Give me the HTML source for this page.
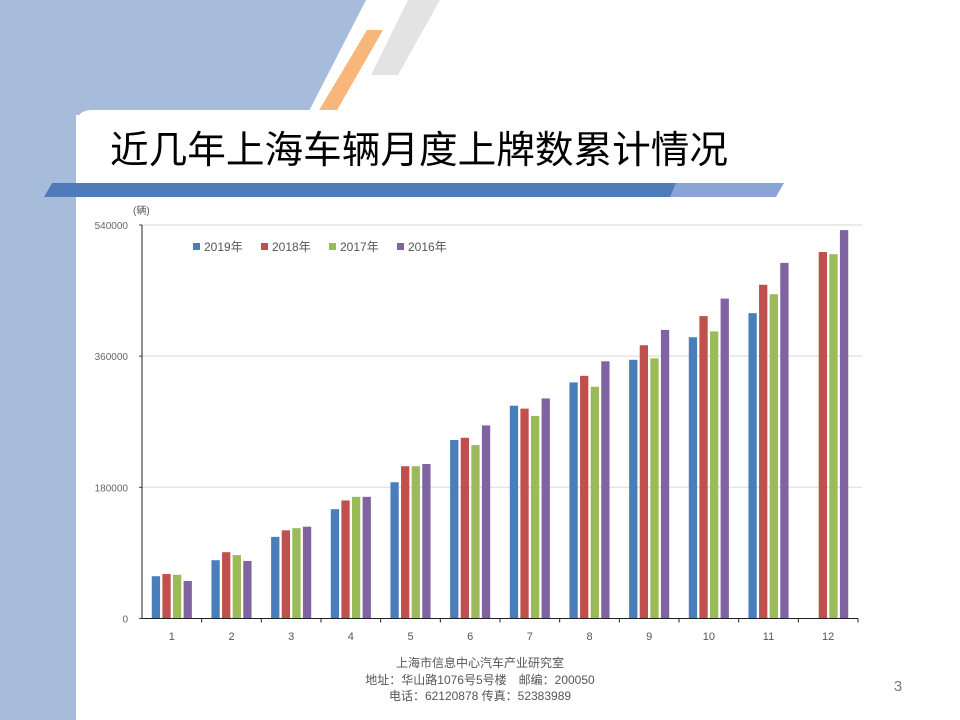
<!DOCTYPE html>
<html><head><meta charset="utf-8">
<style>
html,body{margin:0;padding:0;background:#fff;}
body{width:960px;height:720px;position:relative;overflow:hidden;font-family:"Liberation Sans","Noto Sans CJK SC",sans-serif;}
</style></head>
<body>
<svg width="960" height="720" viewBox="0 0 960 720" style="position:absolute;left:0;top:0">
  <rect x="0" y="0" width="76" height="720" fill="#a7bcda"/>
  <polygon points="0,0 366,0 307,115 0,115" fill="#a7bcda"/>
  <polygon points="408,0 440,0 398,75 371,75" fill="#e3e3e3"/>
  <polygon points="367,30 383,30 336,112 318,112" fill="#f9b67a"/>
  <path d="M76,126 Q76,110 92,110 L960,110 L960,720 L76,720 Z" fill="#fff"/>
  <text x="110" y="163" font-size="38" fill="#000" textLength="618" lengthAdjust="spacingAndGlyphs" font-family="Liberation Sans, Noto Sans CJK SC, sans-serif">近几年上海车辆月度上牌数累计情况</text>
  <polygon points="52,183 680,183 674,197 44,197" fill="#4f7bbb"/>
  <polygon points="676,183 784,183 776,197 670,197" fill="#8aa5d4"/>
  <g id="chart"></g>
  <g font-size="12" fill="#555" text-anchor="middle">
    <text x="480" y="667">上海市信息中心汽车产业研究室</text>
    <text x="480" y="684">地址：华山路1076号5号楼　邮编：200050</text>
    <text x="480" y="700">电话：62120878  传真：52383989</text>
  </g>
  <text x="898" y="691" font-size="15" fill="#777" text-anchor="middle">3</text>
</svg>
<script>
const months = ["1","2","3","4","5","6","7","8","9","10","11","12"];
const seriesNames = ["2019年","2018年","2017年","2016年"];
const seriesColors = ["#4a7ebb","#c0504d","#9bbb59","#8064a2"];
const v2019 = [58000,80000,112000,150000,187000,245000,292000,324000,355000,386000,419000,null];
const v2018 = [61000,91000,121000,162000,209000,248000,288000,333000,375000,415000,458000,503000];
const v2017 = [60000,87000,124000,167000,209000,238000,278000,318000,357000,394000,445000,500000];
const v2016 = [51500,79000,126000,167000,212000,265000,302000,353000,396000,439000,488000,533000];
const yTicks = [0,180000,360000,540000];
const NS="http://www.w3.org/2000/svg";
const g=document.getElementById('chart');
const x0=142,x1=858,y0=618.5,yTop=225,yMax=540000;
const yScale=v=>y0-(v/yMax)*(y0-yTop);
const gw=(x1-x0)/months.length;
const xGroup=i=>x0+gw*(i+0.5);
function el(t,a,name){const e=document.createElementNS(NS,t);for(const k in a)e.setAttribute(k,a[k]);


g.appendChild(e);return e;}
yTicks.forEach(t=>{const y=yScale(t);
 if(t>0){el('line',{x1:x0,x2:x1+4,y1:y,y2:y,stroke:'#e4e4e4','stroke-width':1.5},'gridline');}
 el('line',{x1:x0-3,x2:x0,y1:y,y2:y,stroke:'#444'},'y-tick');
 const tx=el('text',{x:x0-14,y:y+4,'font-size':10,fill:'#666','text-anchor':'end'},'y-tick-label');tx.textContent=t;});
const allSeries=[v2019,v2018,v2017,v2016];
const bw=8.3,step=10.6;
allSeries.forEach((s,si)=>{s.forEach((v,i)=>{if(v==null)return;
 const cx=xGroup(i)+(si-1.5)*step;
 el('rect',{x:cx-bw/2,y:yScale(v),width:bw,height:y0-yScale(v),fill:seriesColors[si]},'bar-'+seriesNames[si].replace('年','')+'-m'+months[i]);});});
el('line',{x1:x0,x2:x0,y1:yTop,y2:y0,stroke:'#222','stroke-width':1},'y-axis');
el('line',{x1:x0,x2:x1,y1:y0,y2:y0,stroke:'#222','stroke-width':1},'x-axis');
months.forEach((m,i)=>{const xb=x0+gw*(i+1);
 el('line',{x1:xb,x2:xb,y1:y0,y2:y0+4,stroke:'#222'},'x-tick');
 const t=el('text',{x:xGroup(i),y:640,'font-size':11,fill:'#555','text-anchor':'middle'},'x-tick-label');t.textContent=m;});
const u=el('text',{x:133,y:214,'font-size':10,fill:'#555'},'y-axis-unit');u.textContent='(辆)';
const lx=[193,261,329,397];
seriesNames.forEach((n,i)=>{el('rect',{x:lx[i],y:243,width:7,height:7,fill:seriesColors[i]},'legend-swatch');
 const t=el('text',{x:lx[i]+11,y:251,'font-size':12,fill:'#555'},'legend-entry');t.textContent=n;});
</script>
</body></html>
